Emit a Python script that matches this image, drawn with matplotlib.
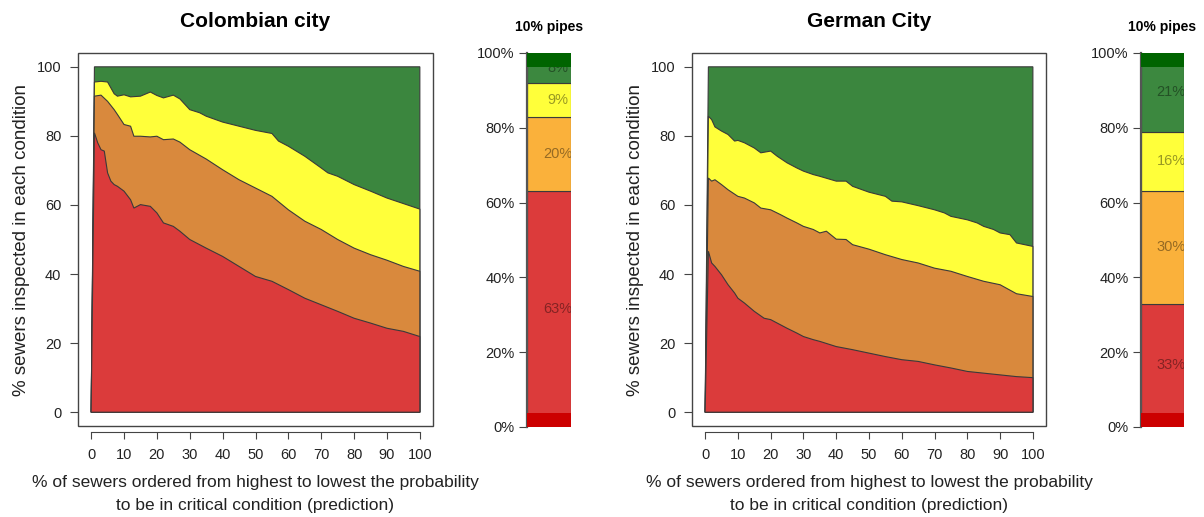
import numpy as np
import matplotlib.pyplot as plt
from matplotlib.patches import Rectangle

plt.rcParams['font.family'] = ['Liberation Sans', 'DejaVu Sans']

# Colombian city: upper edge (cumulative %) of each condition band
col_yellow_x = [1, 3, 5, 7, 8, 10, 12, 15, 18, 20, 22, 25, 27, 30, 33, 35, 40, 45, 50, 55,
                57, 60, 65, 70, 72, 75, 80, 85, 90, 95, 100]
col_yellow_y = [95.6, 95.8, 95.6, 92.2, 91.5, 91.9, 91.3, 91.5, 92.7, 91.7, 91.0, 91.8, 90.7,
                87.6, 86.7, 85.7, 84.0, 82.8, 81.6, 80.7, 78.5, 77.0, 74.1, 70.7, 69.3, 68.3,
                65.9, 64.0, 62.0, 60.4, 58.8]
col_orange_x = [1, 3, 5, 7, 8, 10, 12, 13, 15, 18, 20, 22, 25, 27, 30, 35, 40, 45, 50, 55,
                60, 65, 70, 75, 80, 85, 90, 95, 100]
col_orange_y = [91.5, 91.8, 90.0, 87.6, 86.2, 83.3, 82.8, 79.9, 79.9, 79.7, 79.9, 78.9, 79.1,
                78.2, 76.0, 73.3, 70.2, 67.3, 64.9, 62.5, 58.6, 55.3, 52.9, 50.0, 47.5, 45.6,
                44.0, 42.2, 40.8]
col_red_x = [1, 2, 3, 4, 5, 6, 7, 8, 10, 12, 13, 15, 18, 20, 22, 25, 27, 30, 35, 40, 45, 50,
             55, 60, 65, 70, 75, 80, 85, 90, 95, 100]
col_red_y = [80.9, 78.0, 76.0, 75.6, 69.3, 66.9, 65.9, 65.4, 64.0, 61.5, 59.1, 60.1, 59.6, 57.7,
             54.8, 53.8, 52.4, 50.0, 47.5, 45.1, 42.2, 39.3, 37.9, 35.5, 33.0, 31.1, 29.2, 27.2,
             25.8, 24.3, 23.4, 21.9]

# German city
ger_yellow_x = [1, 2, 3, 5, 7, 9, 10, 12, 15, 17, 20, 22, 25, 28, 30, 33, 35, 40, 43, 45, 50,
                55, 57, 60, 65, 70, 73, 75, 80, 83, 85, 88, 90, 93, 95, 100]
ger_yellow_y = [85.7, 84.7, 82.6, 81.4, 80.4, 78.5, 78.7, 78.0, 76.5, 75.1, 75.6, 74.1, 72.2,
                70.7, 69.8, 68.8, 68.3, 66.9, 66.9, 65.4, 63.7, 62.5, 61.1, 60.9, 59.8, 58.6,
                57.7, 56.7, 55.7, 54.8, 53.8, 52.9, 51.9, 51.4, 49.0, 48.0]
ger_orange_x = [1, 2, 3, 5, 7, 10, 12, 15, 17, 20, 23, 25, 28, 30, 33, 35, 37, 40, 43, 45, 50,
                55, 60, 65, 70, 75, 80, 85, 90, 95, 100]
ger_orange_y = [67.8, 66.9, 67.3, 65.9, 64.4, 62.5, 62.0, 60.6, 59.1, 58.6, 57.2, 56.2, 54.8,
                53.8, 52.9, 51.9, 52.4, 50.1, 50.0, 48.5, 47.2, 45.6, 44.2, 43.2, 41.7, 40.8,
                39.3, 37.9, 36.9, 34.3, 33.5]
ger_red_x = [1, 2, 3, 5, 7, 9, 10, 12, 15, 18, 20, 22, 25, 28, 30, 33, 35, 40, 45, 50, 55, 60,
             65, 70, 75, 80, 85, 90, 95, 100]
ger_red_y = [46.6, 43.2, 42.2, 39.8, 36.9, 34.5, 33.0, 31.6, 29.2, 27.2, 26.8, 25.8, 24.3, 22.9,
             21.9, 21.0, 20.5, 19.0, 18.1, 17.1, 16.1, 15.2, 14.7, 13.7, 12.8, 11.8, 11.3, 10.8,
             10.3, 10.0]

TOTAL = 100

# share of the top 10% pipes in each condition (red, orange, yellow, green)
col_pipes = [63, 20, 9, 8]
ger_pipes = [33, 30, 16, 21]

area_colors = ['#DB3B3B', '#D9893D', '#FFFF3A', '#3B863E']
bar_colors = ['#DC3B3B', '#FAB13B', '#FFFF3A', '#3C883F']
edge = '#3a3a3a'


def area_panel(ax, title, red, orange, yellow):
    x_all = yellow[0]
    ax.fill(np.r_[0, x_all, 100], np.r_[0, np.full(len(x_all), TOTAL), 0],
            fc=area_colors[3], ec=edge, lw=0.8)
    for (x, y), c in zip([yellow, orange, red], area_colors[2::-1]):
        ax.fill(np.r_[0, x, 100], np.r_[0, y, 0], fc=c, ec=edge, lw=0.8)
    ax.set_xlim(-4, 104)
    ax.set_ylim(-4, 104)
    ax.set_xticks(np.arange(0, 101, 10))
    ax.set_yticks(np.arange(0, 101, 20))
    for s in ['top', 'right', 'left']:
        ax.spines[s].set_visible(False)
    ax.spines['bottom'].set_position(('outward', 4))
    ax.spines['bottom'].set_bounds(0, 100)
    ax.spines['bottom'].set_color('#444444')
    ax.add_patch(Rectangle((0, 0), 1, 1, transform=ax.transAxes, fill=False,
                           ec='#444444', lw=1.0, clip_on=False))
    ax.tick_params(axis='x', direction='out', length=5, width=0.8, color='#444444',
                   labelsize=10.5, pad=7, labelcolor='#222222')
    ax.tick_params(axis='y', direction='out', length=6, width=0.8, color='#444444',
                   labelsize=10.5, pad=6, labelcolor='#222222')
    ax.set_title(title, fontsize=15, fontweight='bold', pad=19)
    ax.set_ylabel('% sewers inspected in each condition', fontsize=13.5, labelpad=5,
                  color='#222222')
    ax.set_xlabel('% of sewers ordered from highest to lowest the probability\n'
                  'to be in critical condition (prediction)', fontsize=12.5, labelpad=9,
                  color='#222222', linespacing=1.7)


def pipes_bar(ax, shares):
    bottom = 0
    for share, c in zip(shares, bar_colors):
        ax.bar(0.5, share, width=1, bottom=bottom, color=c, ec=edge, lw=0.8, zorder=1)
        ax.text(0.7, bottom + share / 2, f'{share}%', ha='center', va='center',
                fontsize=10.5, color='black', alpha=0.4, clip_on=True, zorder=2)
        bottom += share
    # darker caps at both ends of the bar
    ax.bar(0.5, 3.7, width=1, bottom=0, color='#CC0000', lw=0, zorder=3)
    ax.bar(0.5, 3.7, width=1, bottom=TOTAL - 3.7, color='#006400', lw=0, zorder=3)
    ax.set_xlim(0, 1)
    ax.set_ylim(0, 100)
    ax.set_xticks([])
    ax.set_yticks(np.arange(0, 101, 20))
    ax.set_yticklabels([f'{v}%' for v in range(0, 101, 20)])
    for s in ['top', 'right', 'bottom']:
        ax.spines[s].set_visible(False)
    ax.spines['left'].set_color('#555555')
    ax.spines['left'].set_linewidth(1.6)
    ax.tick_params(axis='y', direction='out', length=6, width=0.8, color='#444444',
                   labelsize=10.5, pad=3, labelcolor='#222222')
    ax.set_title('10% pipes', fontsize=10, fontweight='bold', pad=16)


fig = plt.figure(figsize=(12.04, 5.17), dpi=100)
W, H = 1204, 517


def add_axes(x0, y0, x1, y1):
    return fig.add_axes([x0 / W, 1 - y1 / H, (x1 - x0) / W, (y1 - y0) / H])


ax1 = add_axes(78, 53, 433, 426)
area_panel(ax1, 'Colombian city', (col_red_x, col_red_y), (col_orange_x, col_orange_y),
           (col_yellow_x, col_yellow_y))
bx1 = add_axes(527, 53, 571, 427)
pipes_bar(bx1, col_pipes)

ax2 = add_axes(692, 53, 1046, 426)
area_panel(ax2, 'German City', (ger_red_x, ger_red_y), (ger_orange_x, ger_orange_y),
           (ger_yellow_x, ger_yellow_y))
bx2 = add_axes(1141, 53, 1184, 427)
pipes_bar(bx2, ger_pipes)

fig.savefig('out.png', dpi=100)
